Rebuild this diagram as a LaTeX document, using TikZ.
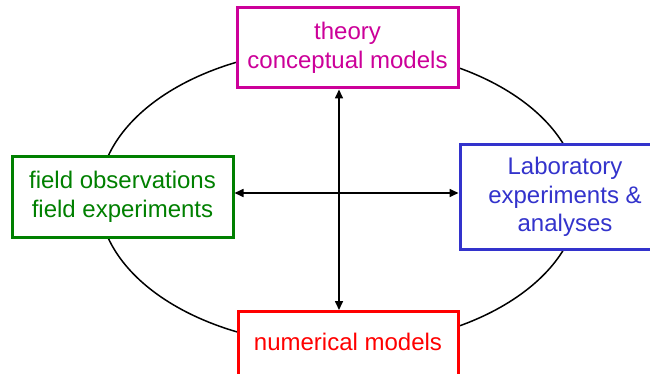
\documentclass[tikz,border=0pt]{standalone}
\usepackage{fontspec}
\setmainfont{Liberation Sans}
\usetikzlibrary{arrows.meta}
\definecolor{cmag}{HTML}{CC0099}
\definecolor{cgreen}{HTML}{008000}
\definecolor{cblue}{HTML}{3333CC}
\definecolor{cred}{HTML}{FF0000}
\tikzset{
  txtf/.style={font=\fontsize{24}{28.5}\selectfont},
  boxn/.style={draw=#1, text=#1, line width=3pt, fill=white, align=center,
    inner sep=0pt, txtf},
  conn/.style={line width=1.6pt, {Triangle[length=9pt,width=8pt]}-{Triangle[length=9pt,width=8pt]}},
}
\begin{document}
\begin{tikzpicture}[x=1pt,y=-1pt]
\useasboundingbox (0,0) rectangle (650,374);
\draw[line width=1.5pt] (339,197) ellipse [x radius=240pt, y radius=149pt];
\node[boxn=cmag, minimum width=221pt, minimum height=80pt] (theory) at (347.5,48) {theory\\conceptual models};
\node[boxn=cgreen, minimum width=221pt, minimum height=80pt] (field) at (122.5,197) {field observations\\field experiments};
\node[boxn=cblue, minimum width=210pt, minimum height=104pt] (lab) at (565,197) {Laboratory\\experiments \&\\analyses};
\node[boxn=cred, minimum width=220pt, minimum height=80pt, anchor=north] (num) at (348,310) {};
\node[text=cred, txtf] (numt) at (348,342) {numerical models};
\draw[conn] (theory.south -| 339,0) -- (num.north -| 339,0);
\draw[conn] (field.east |- 0,193) -- (lab.west |- 0,193);
\end{tikzpicture}
\end{document}
